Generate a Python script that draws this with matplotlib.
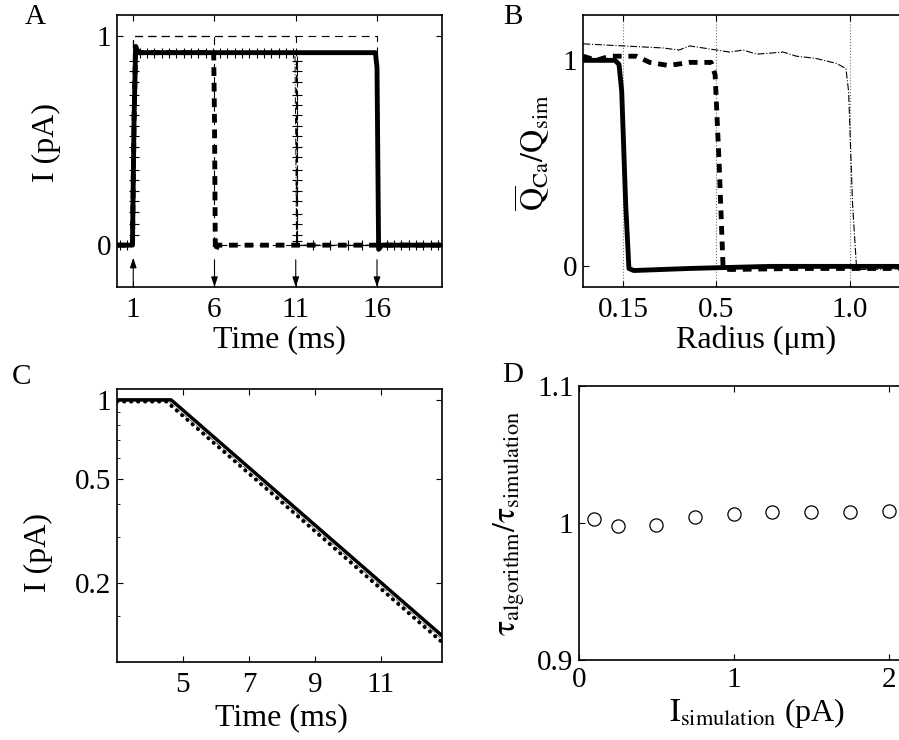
import matplotlib
matplotlib.use("Agg")
import matplotlib.pyplot as plt
from matplotlib.ticker import FixedLocator, NullFormatter, LogLocator

plt.rcParams['font.family'] = ['Liberation Serif', 'DejaVu Serif']
plt.rcParams['mathtext.fontset'] = 'stix'
plt.rcParams['axes.linewidth'] = 1.2

# --- panel A: current pulses (ms, pA) ---
a_ideal_t = [[0, 1, 1, 6, 6, 20], [0, 1, 1, 11, 11, 20], [0, 1, 1, 16, 16, 20]]
a_ideal_i = [0, 0, 1, 1, 0, 0]
a_15_t = [0, 0.95, 1.05, 1.15, 1.3, 15.9, 16.0, 16.1, 16.3, 20]
a_15_i = [0, 0.0, 0.6, 0.95, 0.92, 0.92, 0.85, -0.02, 0.0, 0.0]
a_5_t = [0, 0.95, 1.05, 1.15, 1.3, 5.95, 6.0, 6.05, 6.2, 20]
a_5_i = [0, 0.0, 0.6, 0.95, 0.92, 0.92, 0.6, -0.03, 0.0, 0.0]
a_10_t = [0, 0.95, 1.05, 1.15, 1.3, 10.95, 11.0, 11.05, 20]
a_10_i = [0, 0.0, 0.6, 0.95, 0.92, 0.92, 0.5, 0.0, 0.0]
# sample markers of the 10 ms trace
a_10_rise_i = [0.05, 0.1, 0.16, 0.21, 0.26, 0.31, 0.36, 0.42, 0.47, 0.52,
               0.57, 0.62, 0.67, 0.72, 0.78, 0.83, 0.88]
a_10_top_t = [1.4, 1.85, 2.3, 2.75, 3.2, 3.65, 4.1, 4.55, 5.0, 5.45, 5.9, 6.35,
              6.8, 7.25, 7.7, 8.15, 8.6, 9.05, 9.5, 9.95, 10.4, 10.85]
a_10_fall_i = [0.88, 0.83, 0.78, 0.72, 0.67, 0.62, 0.57, 0.52, 0.47, 0.42,
               0.36, 0.31, 0.26, 0.21, 0.15, 0.1, 0.05, 0.02]
a_10_base_t = [0.2, 0.6, 12.06, 13.1, 14.2, 15.1, 16.6, 17.05, 17.5, 17.95,
               18.4, 18.85, 19.3, 19.75]
a_arrow_t = [1, 6, 11, 16]
a_arrow_up = [True, False, False, False]

# --- panel B: charge ratio vs radius (um) ---
b_marks = [0.15, 0.5, 1.0]
b_015_r = [0.0, 0.12, 0.135, 0.145, 0.16, 0.172, 0.19, 0.4, 0.7, 1.3]
b_015_q = [1.0, 1.0, 0.98, 0.85, 0.3, -0.01, -0.02, -0.01, 0.0, 0.0]
b_05_r = [0.0, 0.05, 0.1, 0.15, 0.2, 0.25, 0.32, 0.4, 0.48, 0.495, 0.51, 0.525, 0.55, 0.8, 1.3]
b_05_q = [1.02, 1.0, 1.02, 1.02, 1.02, 0.99, 0.975, 0.99, 0.99, 0.93, 0.5, -0.01, -0.015, -0.01, -0.01]
b_10_r = [0.0, 0.15, 0.3, 0.36, 0.4, 0.5, 0.55, 0.6, 0.65, 0.75, 0.8, 0.87, 0.95,
          0.985, 0.995, 1.01, 1.025, 1.04, 1.3]
b_10_q = [1.08, 1.07, 1.06, 1.05, 1.07, 1.05, 1.04, 1.05, 1.03, 1.04, 1.02, 1.01, 0.985,
          0.96, 0.85, 0.3, -0.01, -0.015, -0.01]

# --- panel C: decay on log scale ---
c_sim_t = [3, 4.64, 12.85]
c_sim_i = [1.0, 1.0, 0.126]
c_alg_t = [3, 4.5, 12.85]
c_alg_i = [0.985, 0.985, 0.119]
c_fit_t = [3, 4.55, 12.85]
c_fit_i = [0.99, 0.99, 0.122]

# --- panel D: tau ratio vs current ---
d_i = [0.1, 0.25, 0.5, 0.75, 1.0, 1.25, 1.5, 1.75, 2.0]
d_ratio = [1.003, 0.9976, 0.9988, 1.0046, 1.0063, 1.0078, 1.0078, 1.0078, 1.0085]

W, H = 899, 740
fig = plt.figure(figsize=(W / 100, H / 100), dpi=100)
TICK = 21
LAB = 23


def fx(px):
    return px / W


def fy(py):
    return 1 - py / H


def style(ax, pad_x=7):
    ax.tick_params(direction='in', top=True, right=True, length=4, width=0.8,
                   labelsize=TICK, pad=4)
    ax.tick_params(axis='x', pad=pad_x)
    ax.tick_params(which='minor', direction='in', length=2.5, width=0.6)


# Panel A
axA = fig.add_axes([fx(117), fy(287), fx(325), 272 / H])
for t in a_ideal_t:
    axA.plot(t, a_ideal_i, color='k', lw=0.8, ls=(0, (7, 5)), zorder=1)
axA.plot(a_10_t, a_10_i, color='k', lw=0.7, ls='-.', zorder=2)
pk = dict(ls='none', marker='+', ms=7, mew=0.8, color='k', zorder=2)
axA.plot([1.02] * len(a_10_rise_i), a_10_rise_i, **pk)
axA.plot(a_10_top_t, [0.92] * len(a_10_top_t), **pk)
axA.plot([11.05] * len(a_10_fall_i), a_10_fall_i, **pk)
axA.plot(a_10_base_t, [0.0] * len(a_10_base_t), **pk)
axA.plot(a_5_t, a_5_i, color='k', lw=3.5, ls=(0, (1.8, 1.4)), zorder=3)
axA.plot(a_15_t, a_15_i, color='k', lw=3.5, zorder=4, solid_capstyle='round')
for t, up in zip(a_arrow_t, a_arrow_up):
    tail, tip = (-0.2, -0.06) if up else (-0.07, -0.2)
    axA.annotate('', xy=(t, tip), xytext=(t, tail),
                 arrowprops=dict(arrowstyle='-|>,head_length=0.6,head_width=0.2',
                                 lw=0.8, color='k', mutation_scale=10,
                                 shrinkA=0, shrinkB=0))
axA.set_xlim(0, 20)
axA.set_ylim(-0.2, 1.1)
axA.set_xticks([1, 6, 11, 16])
axA.set_yticks([0, 1])
style(axA)
axA.set_xlabel('Time (ms)', fontsize=LAB)
axA.xaxis.set_label_coords(fx(279), fy(325), transform=fig.transFigure)
axA.set_ylabel('I (pA)', fontsize=LAB)
axA.yaxis.set_label_coords(fx(61), fy(142), transform=fig.transFigure)

# Panel B
axB = fig.add_axes([fx(583), fy(287), fx(347), 272 / H])
for r in b_marks:
    axB.axvline(r, color='0.45', lw=0.8, ls=':', zorder=0)
axB.plot(b_10_r, b_10_q, color='k', lw=0.8, ls='-.', zorder=2)
axB.plot(b_05_r, b_05_q, color='k', lw=3.5, ls=(0, (1.8, 1.4)), zorder=3)
axB.plot(b_015_r, b_015_q, color='k', lw=3.5, zorder=4)
axB.set_xlim(0, 1.3)
axB.set_ylim(-0.1, 1.22)
axB.set_xticks(b_marks)
axB.set_xticklabels(['0.15', '0.5', '1.0'])
axB.set_yticks([0, 1])
style(axB)
axB.set_xlabel('Radius (\u03bcm)', fontsize=LAB)
axB.xaxis.set_label_coords(fx(756), fy(326), transform=fig.transFigure)
axB.set_ylabel(r'$\overline{\mathrm{Q}}_{\mathrm{Ca}}/\mathrm{Q}_{\mathrm{sim}}$', fontsize=LAB)
axB.yaxis.set_label_coords(fx(552), fy(153), transform=fig.transFigure)

# Panel C
axC = fig.add_axes([fx(117), fy(662), fx(325), 273 / H])
axC.plot(c_fit_t, c_fit_i, color='0.3', lw=0.6, ls='-.', zorder=1)
axC.plot(c_alg_t, c_alg_i, color='k', lw=2.8, ls=(0, (0.1, 1.7)),
         dash_capstyle='round', zorder=2)
axC.plot(c_sim_t, c_sim_i, color='k', lw=2.5, zorder=3)
axC.set_yscale('log')
axC.set_xlim(3, 12.85)
axC.set_ylim(0.1, 1.1)
axC.set_xticks([5, 7, 9, 11])
axC.yaxis.set_major_locator(FixedLocator([0.2, 0.5, 1]))
axC.set_yticklabels(['0.2', '0.5', '1'])
axC.yaxis.set_minor_locator(LogLocator(base=10, subs=(0.1, 0.15, 0.3, 0.4, 0.6, 0.7, 0.8, 0.9, 1.0), numticks=10))
axC.yaxis.set_minor_formatter(NullFormatter())
style(axC)
axC.set_xlabel('Time (ms)', fontsize=LAB)
axC.xaxis.set_label_coords(fx(281), fy(703), transform=fig.transFigure)
axC.set_ylabel('I (pA)', fontsize=LAB)
axC.yaxis.set_label_coords(fx(53), fy(553), transform=fig.transFigure)

# Panel D
axD = fig.add_axes([fx(579), fy(660), fx(356), 274 / H])
axD.plot(d_i, d_ratio, ls='none', marker='o', ms=9.5, mfc='none', mec='k', mew=0.9)
axD.set_xlim(0, 2.3)
axD.set_ylim(0.9, 1.1)
axD.set_xticks([0, 1, 2])
axD.set_yticks([0.9, 1.0, 1.1])
axD.set_yticklabels(['0.9', '1', '1.1'])
style(axD, pad_x=5)
axD.set_xlabel(r'$\mathrm{I}_{\mathrm{simulation}}$ (pA)', fontsize=LAB)
axD.xaxis.set_label_coords(fx(757), fy(696), transform=fig.transFigure)
axD.set_ylabel(r'$\mathrm{\tau}_{\mathrm{algorithm}}/\mathrm{\tau}_{\mathrm{simulation}}$', fontsize=LAB)
axD.yaxis.set_label_coords(fx(527), fy(523), transform=fig.transFigure)

# panel letters
for letter, x, y in [('A', 25, 4), ('B', 503, 4), ('C', 12, 364), ('D', 502, 362)]:
    fig.text(fx(x), fy(y), letter, fontsize=21, ha='left', va='top')

fig.savefig('out.png', dpi=100)
